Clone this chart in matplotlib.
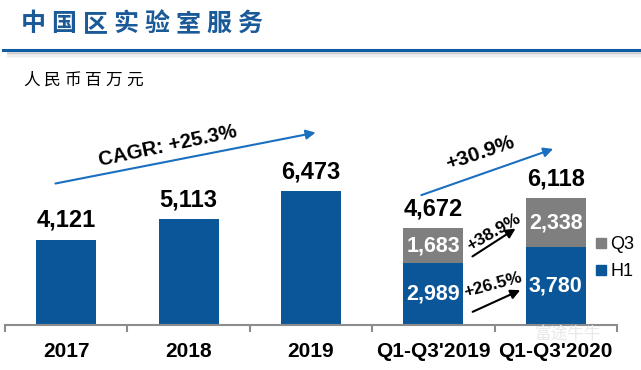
import matplotlib.pyplot as plt
from matplotlib.lines import Line2D
import numpy as np

plt.rcParams['font.family'] = ['Liberation Sans', 'Noto Sans CJK SC', 'DejaVu Sans']

# data
categories = ["2017", "2018", "2019", "Q1-Q3'2019", "Q1-Q3'2020"]
annual = [4121, 5113, 6473]
h1 = [2989, 3780]
q3 = [1683, 2338]
title = "中国区实验室服务"
unit = "人民币百万元"

BLUE = '#0B5699'
GRAY = '#7F7F7F'
TITLE_BLUE = '#1B5A98'

fig = plt.figure(figsize=(6.41, 3.70), dpi=100)
W, H = 641, 370

# header: characters spread out like the slide title
for i, ch in enumerate(title):
    fig.text((33 + 31 * i) / W, 1 - 24 / H, ch, fontsize=18, fontweight='bold',
             color=TITLE_BLUE, ha='center', va='center', family='Noto Sans CJK SC')
for i, ch in enumerate(unit):
    fig.text((32 + 20.5 * i) / W, 1 - 80 / H, ch, fontsize=12,
             color='black', ha='center', va='center', family='Noto Sans CJK SC')

# blue rule with soft shadow
for k, a in enumerate([0.35, 0.22, 0.12, 0.05]):
    fig.add_artist(Line2D([8 / W, 1], [1 - (52.5 + k * 1.5) / H] * 2,
                          color='#9A9A9A', lw=1.5, alpha=a))
fig.add_artist(Line2D([3 / W, 1], [1 - 50 / H] * 2, color='#0E5CA3', lw=2.2))

ax = fig.add_axes([5 / W, 45 / H, 612 / W, 165.6 / H])
ax.set_xlim(-0.5, 4.5)
ax.set_ylim(0, 8000)

x = np.arange(len(categories))
bw = 0.49
ax.bar(x[:3], annual, width=bw, color=BLUE, zorder=2)
ax.bar(x[3:], h1, width=bw, color=BLUE, zorder=2)
ax.bar(x[3:], q3, width=bw, bottom=h1, color=GRAY, zorder=2)

totals = annual + [a + b for a, b in zip(h1, q3)]
for xi, t in zip(x, totals):
    ax.text(xi, t + 380, f"{t:,}", ha='center', va='bottom', fontsize=17,
            fontweight='bold', color='black')

for xi, a, b in zip(x[3:], h1, q3):
    ax.text(xi, a / 2, f"{a:,}", ha='center', va='center', fontsize=15.5,
            fontweight='bold', color='white')
    ax.text(xi, a + b / 2, f"{b:,}", ha='center', va='center', fontsize=15.5,
            fontweight='bold', color='white')

# growth arrows
arrow_blue = dict(arrowstyle='-|>', color='#1A6FC0', lw=1.5, mutation_scale=14)
arrow_black = dict(arrowstyle='-|>', color='black', lw=1.5, mutation_scale=14)
ax.annotate('', xy=(2.06, 9320), xytext=(-0.11, 6810), arrowprops=arrow_blue,
            annotation_clip=False)
ax.text(0.83, 8650, "CAGR: +25.3%", rotation=12, ha='center', va='center',
        fontsize=14.5, fontweight='bold', clip_on=False)
ax.annotate('', xy=(4.0, 8550), xytext=(2.88, 6230), arrowprops=arrow_blue,
            annotation_clip=False)
ax.text(3.38, 8300, "+30.9%", rotation=19, ha='center', va='center',
        fontsize=15, fontweight='bold', clip_on=False)
ax.annotate('', xy=(3.69, 4730), xytext=(3.30, 3240), arrowprops=arrow_black)
ax.text(3.49, 4480, "+38.9%", rotation=30, ha='center', va='center',
        fontsize=12.5, fontweight='bold')
ax.annotate('', xy=(3.73, 1740), xytext=(3.30, 580), arrowprops=arrow_black)
ax.text(3.49, 1930, "+26.5%", rotation=15, ha='center', va='center',
        fontsize=12.5, fontweight='bold')

# axis styling
for s in ['left', 'right', 'top']:
    ax.spines[s].set_visible(False)
ax.spines['bottom'].set_color('#8C8C8C')
ax.spines['bottom'].set_linewidth(1.5)
ax.set_yticks([])
ax.set_xticks(x)
ax.set_xticklabels(categories, fontsize=15, fontweight='bold')
ax.set_xticks(np.arange(-0.5, 5, 1), minor=True)
ax.tick_params(axis='x', which='major', length=0, pad=12)
ax.tick_params(axis='x', which='minor', length=5, width=1.5, color='#8C8C8C')

# legend
handles = [Line2D([], [], marker='s', ls='', color=GRAY, markersize=7.5),
           Line2D([], [], marker='s', ls='', color=BLUE, markersize=7.5)]
fig.legend(handles, ['Q3', 'H1'], loc='upper left',
           bbox_to_anchor=(596 / W, 1 - 236 / H), frameon=False,
           fontsize=13, handlelength=0.6, handletextpad=0.2,
           labelspacing=0.55, borderaxespad=0, borderpad=0)

# watermark, kept faint and just above the tick labels
fig.text(568 / W, 1 - 334 / H, "富途牛牛", fontsize=12, color='#E8E8E8',
         ha='center', va='center', family='Noto Sans CJK SC', zorder=0)

fig.savefig('out.png', dpi=100)
